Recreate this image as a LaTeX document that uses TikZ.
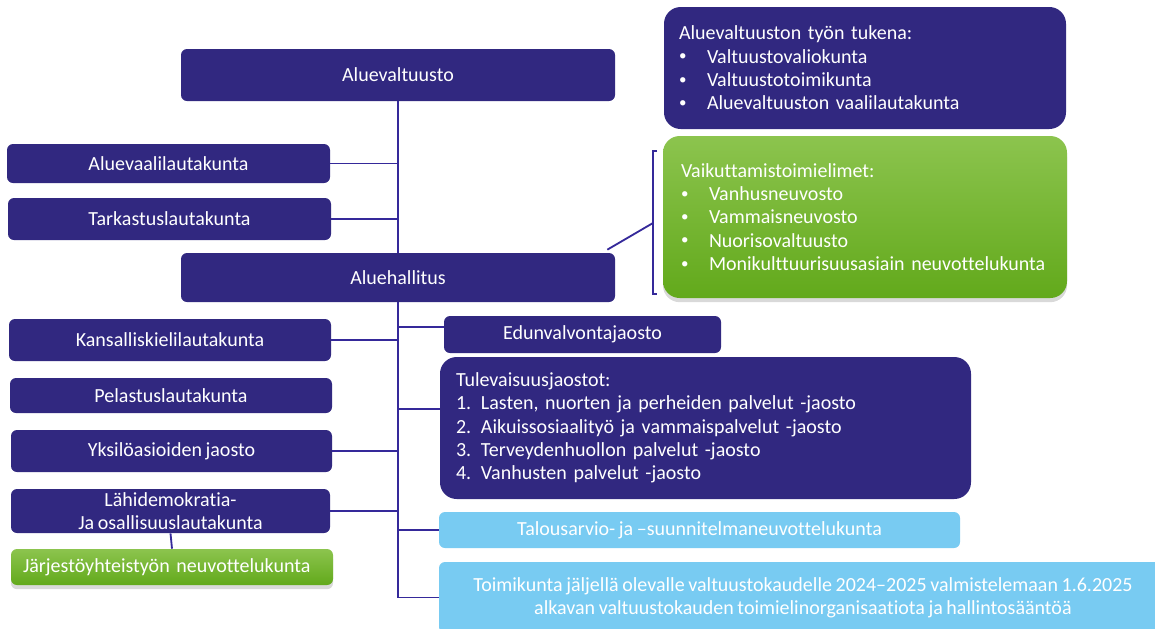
\documentclass[tikz,border=0pt]{standalone}
\usepackage{fontspec}
\setmainfont{Carlito}[Ligatures=NoCommon, WordSpace=0.8]
\usetikzlibrary{shadows}

\definecolor{darkPurple}{HTML}{312880}
\definecolor{linePurple}{HTML}{35299A}
\definecolor{lightBlue}{HTML}{78CBF2}
\definecolor{greenTop}{HTML}{8CC44E}
\definecolor{greenBottom}{HTML}{62A91B}

\begin{document}
\begin{tikzpicture}[
    x=0.6pt, y=-0.6pt,
    font=\fontsize{12}{14}\selectfont,
    % 统一的样式
    box_style/.style={rounded corners=3.6pt, fill=darkPurple, text=white, inner sep=0pt, align=center},
    list_style/.style={rounded corners=10pt, fill=darkPurple, text=white, inner ysep=0pt, align=left},
    green_style/.style={rounded corners=#1, top color=greenTop, bottom color=greenBottom, text=white,
        inner ysep=0pt, align=left, drop shadow={shadow xshift=0pt, shadow yshift=-2.5pt, opacity=0.3}},
    blue_style/.style={rounded corners=3.6pt, fill=lightBlue, text=white, inner sep=0pt, align=center},
    line_style/.style={draw=linePurple, line width=1.1pt}
]
    \useasboundingbox (0,0) rectangle (1155,628);

    % --- 绘制宏 ---
    \newcommand{\laatikko}[6]{
        \node[#5, minimum width=#3*0.6pt, minimum height=#4*0.6pt] (#1) at (#2) {#6};
    }
    \newcommand{\pallo}{\makebox[16.8pt][l]{\raisebox{0.12em}{\fontsize{9}{9}\selectfont\textbullet}}}
    \newcommand{\nro}[1]{\makebox[15pt][l]{#1.}}

    % --- 中间主干 ---
    \laatikko{valtuusto}{398,75}{434}{52}{box_style}{Aluevaltuusto}
    \laatikko{hallitus}{398,277.5}{434}{49}{box_style}{Aluehallitus}

    % --- 左侧 ---
    \laatikko{vaali}{168.5,163.5}{323}{39}{box_style}{Aluevaalilautakunta}
    \laatikko{tarkastus}{169.5,219}{323}{42}{box_style}{Tarkastuslautakunta}
    \laatikko{kieli}{170,340}{322}{42}{box_style}{Kansalliskielilautakunta}
    \laatikko{pelastus}{171,395.5}{322}{35}{box_style}{Pelastuslautakunta}
    \laatikko{yksilo}{171.5,451}{321}{42}{box_style}{Yksilöasioiden jaosto}
    \laatikko{lahidemo}{170.5,511}{319}{44}{box_style}{Lähidemokratia-\\Ja osallisuuslautakunta}
    \laatikko{jarjesto}{172,567}{322}{36}{green_style=3.6pt, inner xsep=7.2pt, text width=178.8pt}{Järjestöyhteistyön neuvottelukunta}

    % --- 右上 ---
    \laatikko{tuki}{865,68}{402}{122}{list_style, inner xsep=9pt, text width=223.2pt}{Aluevaltuuston työn tukena:\\
        \pallo Valtuustovaliokunta\\
        \pallo Valtuustotoimikunta\\
        \pallo Aluevaltuuston vaalilautakunta}
    \laatikko{vaikutus}{865,217}{404}{162}{green_style=10pt, inner xsep=10.8pt, text width=220.8pt}{Vaikuttamistoimielimet:\\
        \pallo Vanhusneuvosto\\
        \pallo Vammaisneuvosto\\
        \pallo Nuorisovaltuusto\\
        \pallo Monikulttuurisuusasiain neuvottelukunta}

    % --- 右下 ---
    \laatikko{edunvalvonta}{582.5,334.5}{277}{37}{box_style}{Edunvalvontajaosto}
    \laatikko{tulevaisuus}{705.5,428}{531}{142}{list_style, inner xsep=9.6pt, text width=299.4pt}{Tulevaisuusjaostot:\\
        \nro{1}Lasten, nuorten ja perheiden palvelut -jaosto\\
        \nro{2}Aikuissosiaalityö ja vammaispalvelut -jaosto\\
        \nro{3}Terveydenhuollon palvelut -jaosto\\
        \nro{4}Vanhusten palvelut -jaosto}
    \laatikko{talous}{699.5,530}{521}{36}{blue_style}{Talousarvio- ja –suunnitelmaneuvottelukunta}
    \laatikko{toimikunta}{803,597.5}{728}{71}{blue_style}{Toimikunta jäljellä olevalle valtuustokaudelle 2024–2025 valmistelemaan 1.6.2025\\alkavan valtuustokauden toimielinorganisaatiota ja hallintosääntöä}

    % --- 连线 ---
    \draw[line_style] (valtuusto) -- (hallitus);
    \draw[line_style] (vaali.east) -- (vaali.east -| valtuusto.south);
    \draw[line_style] (tarkastus.east) -- (tarkastus.east -| valtuusto.south);
    \draw[line_style] (hallitus.south) -- (hallitus.south |- toimikunta.west) -- (toimikunta.west);
    \draw[line_style] (kieli.east) -- (kieli.east -| hallitus.south);
    \draw[line_style] (yksilo.east) -- (yksilo.east -| hallitus.south);
    \draw[line_style] (lahidemo.east) -- (lahidemo.east -| hallitus.south);
    \draw[line_style] (lahidemo.south) -- (jarjesto.north);
    \draw[line_style] ([yshift=4.5pt]edunvalvonta.west -| hallitus.south) -- ([yshift=4.5pt]edunvalvonta.west);
    \draw[line_style] ([yshift=11.4pt]tulevaisuus.west -| hallitus.south) -- ([yshift=11.4pt]tulevaisuus.west);
    \draw[line_style] (talous.west -| hallitus.south) -- (talous.west);

    % 右侧括号
    \coordinate (sulkuYla) at (653,151);
    \coordinate (sulkuAla) at (653,294);
    \coordinate (sulkuKeski) at (653,223);
    \draw[line_style] ([xshift=2.4pt]sulkuYla) -- (sulkuYla) -- (sulkuAla) -- ([xshift=2.4pt]sulkuAla);
    \draw[line_style] ([xshift=-4.8pt, yshift=1.8pt]hallitus.north east) -- (sulkuKeski);

\end{tikzpicture}
\end{document}
